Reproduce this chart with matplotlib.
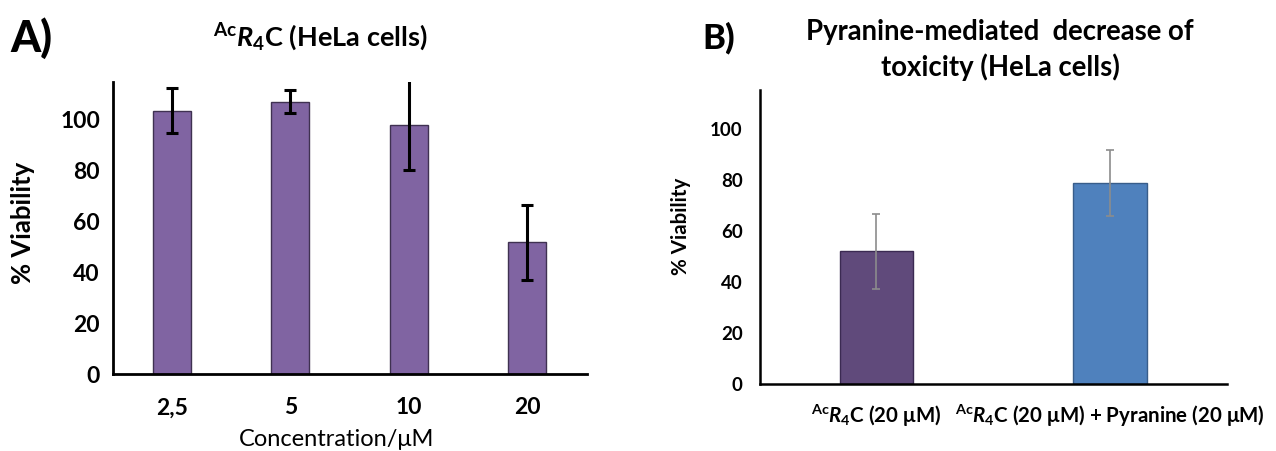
import numpy as np
import matplotlib
matplotlib.use('Agg')
import matplotlib.pyplot as plt

plt.rcParams['font.family'] = ['Lato', 'DejaVu Sans']
plt.rcParams['mathtext.fontset'] = 'custom'
plt.rcParams['mathtext.rm'] = 'Lato:bold'
plt.rcParams['mathtext.it'] = 'Lato:bold:italic'
plt.rcParams['mathtext.bf'] = 'Lato:bold'

# panel A data
conc_labels = ['2,5', '5', '10', '20']
viab_a = [103, 106.5, 97.5, 51.5]
err_a = [8.7, 4.4, 17.7, 14.6]

# panel B data
cond_labels = [r'$^{\mathrm{Ac}}\mathit{R}_{4}$C (20 μM)',
               r'$^{\mathrm{Ac}}\mathit{R}_{4}$C (20 μM) + Pyranine (20 μM)']
viab_b = [51.7, 78.4]
err_b = [14.7, 13.0]
colors_b = ['#604a7b', '#4f81bd']

W, H = 1276, 452
fig = plt.figure(figsize=(W / 100, H / 100), dpi=100)

def box(l, t, r, b):
    return [l / W, 1 - b / H, (r - l) / W, (b - t) / H]

def style(ax, lw):
    for s in ['top', 'right']:
        ax.spines[s].set_visible(False)
    for s in ['left', 'bottom']:
        ax.spines[s].set_linewidth(lw)
        ax.spines[s].set_color('black')
    ax.tick_params(length=0)

# ---- A ----
ax = fig.add_axes(box(112.5, 82.7, 586.5, 375))
xa = np.arange(len(viab_a))
ax.bar(xa, viab_a, width=0.32, color='#8064a2', edgecolor='#3f3151', linewidth=1.0, zorder=2)
ax.errorbar(xa, viab_a, yerr=err_a, fmt='none', ecolor='black', elinewidth=2.2,
            capsize=4, capthick=2.2, zorder=3)
ax.set_xlim(-0.5, 3.5)
ax.set_ylim(0, 114.3)
ax.set_yticks(range(0, 101, 20))
ax.set_xticks(xa)
ax.set_xticklabels(conc_labels)
style(ax, 2.0)
ax.tick_params(axis='y', pad=9, labelsize=16.5)
ax.tick_params(axis='x', pad=16, labelsize=16.5)
for t in ax.get_xticklabels() + ax.get_yticklabels():
    t.set_fontweight('bold')
ax.set_ylabel('% Viability', fontsize=18.5, fontweight='bold')
ax.yaxis.set_label_coords((35 - 112.5) / 474, 0.52)
ax.set_xlabel('Concentration/μM', fontsize=17)
ax.xaxis.set_label_coords((337 - 112.5) / 474, -(440 - 375) / 292.3, transform=ax.transAxes)
ax.xaxis.label.set_va('center')

fig.text(10 / W, 1 - 38 / H, 'A)', fontsize=31, fontweight='black', va='center', ha='left')
fig.text(320 / W, 1 - 37 / H, r'$^{\mathrm{Ac}}\mathit{R}_{4}$C (HeLa cells)',
         fontsize=19.5, fontweight='bold', va='center', ha='center')

# ---- B ----
bx = fig.add_axes(box(759.5, 90.7, 1227, 384.5))
xb = np.arange(len(viab_b))
bx.bar(xb, viab_b, width=0.315, color=colors_b, edgecolor=['#3b2a52', '#385d8a'],
       linewidth=1.0, zorder=2)
bx.errorbar(xb, viab_b, yerr=err_b, fmt='none', ecolor='#8c8c8c', elinewidth=1.2,
            capsize=3, capthick=1.2, zorder=3)
bx.set_xlim(-0.5, 1.5)
bx.set_ylim(0, 114.8)
bx.set_yticks(range(0, 101, 20))
bx.set_xticks(xb)
bx.set_xticklabels(cond_labels)
style(bx, 1.8)
bx.tick_params(axis='y', pad=12, labelsize=13.5)
bx.tick_params(axis='x', pad=13, labelsize=14.8)
for t in bx.get_xticklabels() + bx.get_yticklabels():
    t.set_fontweight('bold')
bx.set_ylabel('% Viability', fontsize=14.8, fontweight='bold')
bx.yaxis.set_label_coords((691 - 759.5) / 467.5, 0.54)

fig.text(702 / W, 1 - 38 / H, 'B)', fontsize=25, fontweight='black', va='center', ha='left')
fig.text(1000 / W, 1 - 50 / H, 'Pyranine-mediated  decrease of\ntoxicity (HeLa cells)',
         fontsize=19.8, fontweight='bold', va='center', ha='center', linespacing=1.4)

fig.savefig('out.png', dpi=100)
